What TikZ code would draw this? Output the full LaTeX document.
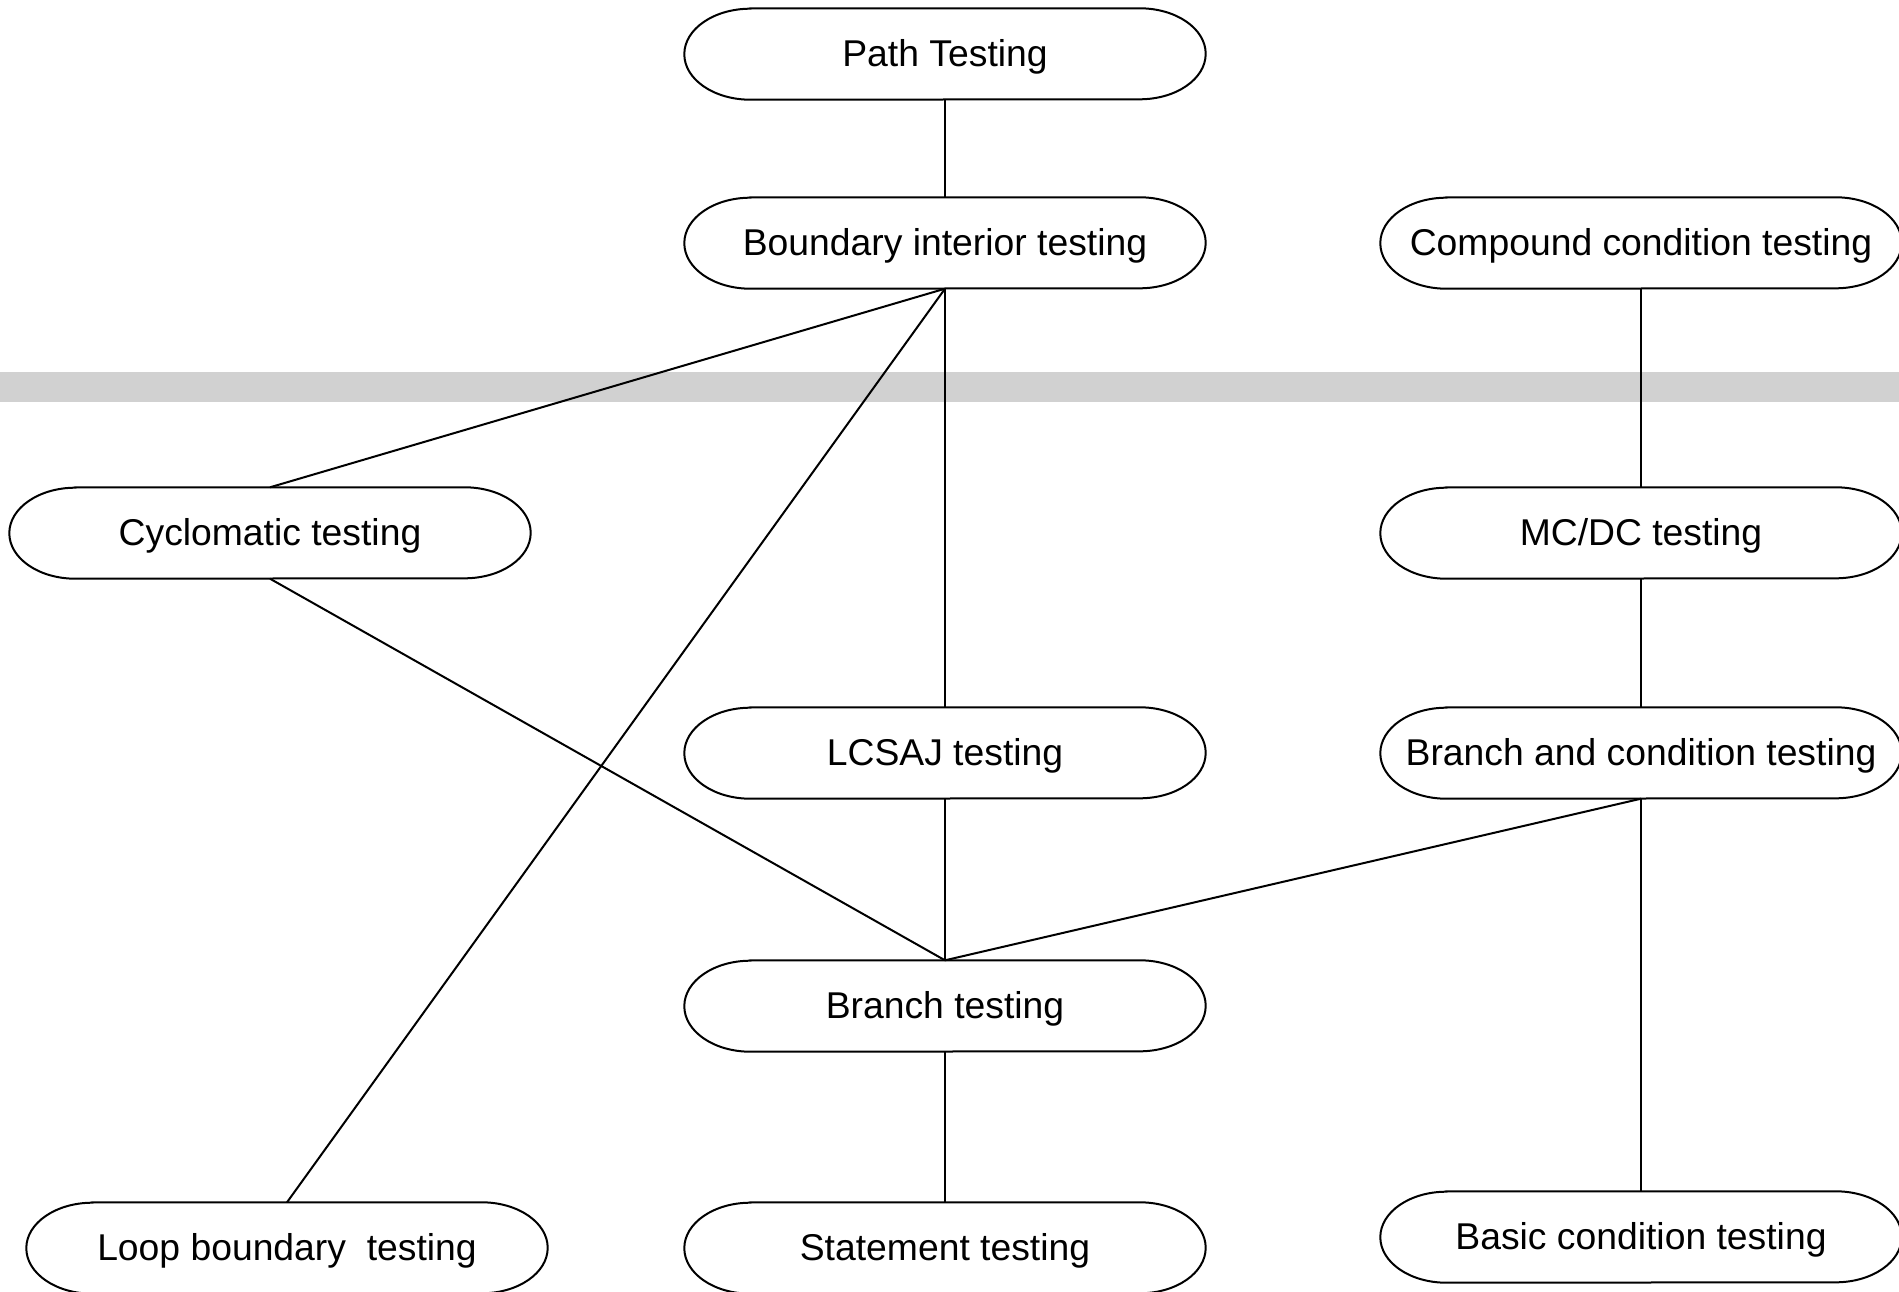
\documentclass[tikz,border=0pt]{standalone}
\usepackage{fontspec}
\setmainfont{Liberation Sans}
\begin{document}
\begin{tikzpicture}[x=1pt,y=-1pt,
  edge/.style={line width=2pt, black},
  capsule/.style={minimum width=521pt, minimum height=91pt, inner sep=0pt,
    text height=32pt, text depth=7pt,
    font=\fontsize{37.3}{40}\selectfont},
  band/.style={fill=black!18, draw=none}]
\useasboundingbox (0,0) rectangle (1899,1292);
\fill[band] (0,372) rectangle (1899,402);
\newcommand{\capsuleoutline}[1]{%
  \draw[edge] ([xshift=66pt]#1.north west) -- ([xshift=-66pt]#1.north east)
    arc[start angle=90,end angle=-90,x radius=66pt,y radius=45.5pt]
    -- ([xshift=66pt]#1.south west)
    arc[start angle=270,end angle=90,x radius=66pt,y radius=45.5pt] -- cycle;}
\node[capsule] (path) at (945,54) {Path Testing};
\node[capsule] (bound) at (945,243) {Boundary interior testing};
\node[capsule] (comp) at (1641,243) {Compound condition testing};
\node[capsule] (cyc) at (270,533) {Cyclomatic testing};
\node[capsule] (mcdc) at (1641,533) {MC/DC testing};
\node[capsule] (lcsaj) at (945,753) {LCSAJ testing};
\node[capsule] (bc) at (1641,753) {Branch and condition testing};
\node[capsule] (branch) at (945,1006) {Branch testing};
\node[capsule] (loop) at (287,1248) {Loop boundary\ \ testing};
\node[capsule] (stmt) at (945,1248) {Statement testing};
\node[capsule] (basic) at (1641,1237) {Basic condition testing};
\foreach \n in {path,bound,comp,cyc,mcdc,lcsaj,bc,branch,loop,stmt,basic}{\capsuleoutline{\n}}
\draw[edge] (path.south) -- (bound.north);
\draw[edge] (bound.south) -- (cyc.north);
\draw[edge] (bound.south) -- (loop.north);
\draw[edge] (bound.south) -- (lcsaj.north);
\draw[edge] (cyc.south) -- (branch.north);
\draw[edge] (lcsaj.south) -- (branch.north);
\draw[edge] (bc.south) -- (branch.north);
\draw[edge] (branch.south) -- (stmt.north);
\draw[edge] (comp.south) -- (mcdc.north);
\draw[edge] (mcdc.south) -- (bc.north);
\draw[edge] (bc.south) -- (basic.north);
\end{tikzpicture}
\end{document}
